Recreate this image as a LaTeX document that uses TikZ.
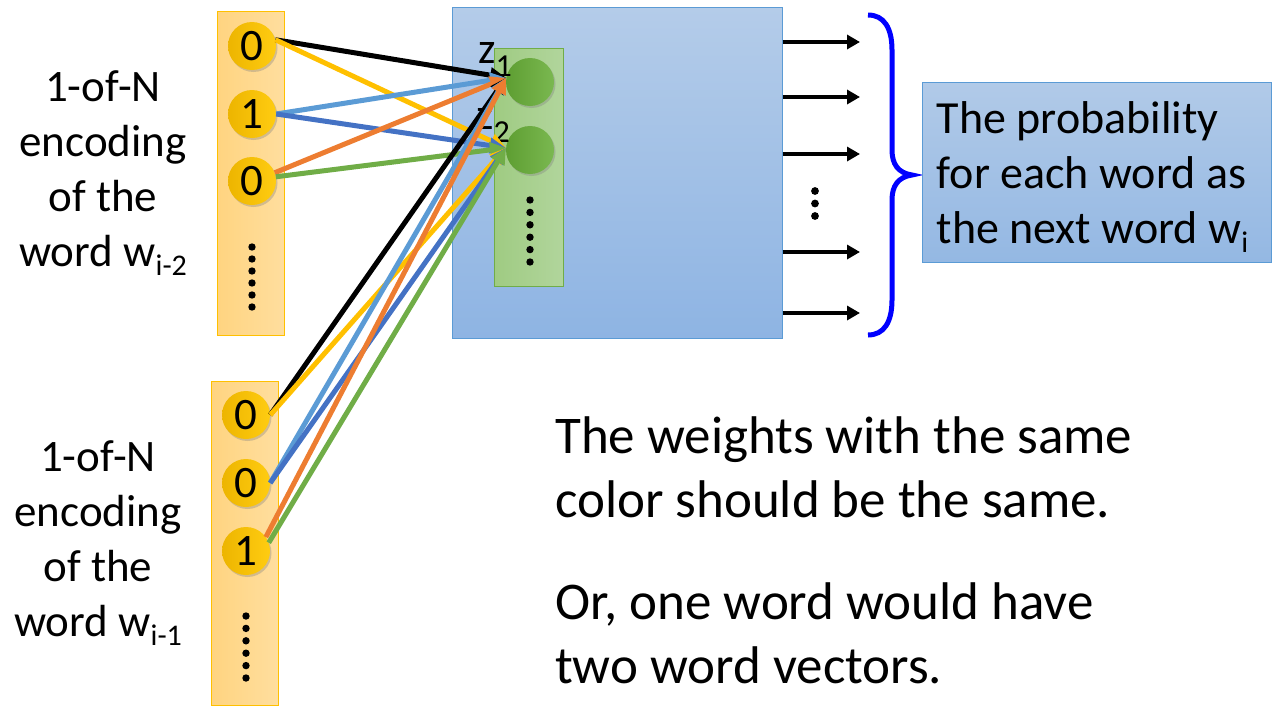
\documentclass[tikz,border=0pt]{standalone}
\usepackage{fontspec}
\setmainfont{Carlito}
\usetikzlibrary{arrows.meta,shadows}

\definecolor{wyellow}{HTML}{FFC000}
\definecolor{wlblue}{HTML}{5B9BD5}
\definecolor{wdblue}{HTML}{4472C4}
\definecolor{worange}{HTML}{ED7D31}
\definecolor{wgreen}{HTML}{70AD47}
\definecolor{boxl}{HTML}{FFD480}
\definecolor{boxr}{HTML}{FFDE9E}
\definecolor{bitl}{HTML}{EDB500}
\definecolor{bitr}{HTML}{FFCC11}
\definecolor{hidtop}{HTML}{B4CCE9}
\definecolor{hidbot}{HTML}{8EB4E3}
\definecolor{grnl}{HTML}{9FCB82}
\definecolor{grnr}{HTML}{B1D59C}
\definecolor{unitl}{HTML}{5E9E32}
\definecolor{unitr}{HTML}{7AB850}
\definecolor{probtop}{HTML}{B1CAE8}
\definecolor{probbot}{HTML}{94B8E3}
\definecolor{brcblue}{HTML}{0000FF}

\begin{document}
\begin{tikzpicture}[x=1pt, y=-1pt,
    onehot/.style={draw=wyellow, line width=1pt, left color=boxl, right color=boxr,
      minimum width=67pt, minimum height=324pt, inner sep=0pt},
    bit/.style={circle, minimum size=48pt, inner sep=0pt, left color=bitl, right color=bitr,
      font=\fontsize{45}{45}\selectfont,
      drop shadow={shadow xshift=1.5pt, shadow yshift=-2pt, opacity=.35}},
    hidbox/.style={draw=wlblue, line width=1pt, top color=hidtop, bottom color=hidbot,
      minimum width=330pt, minimum height=331pt, inner sep=0pt},
    grnbox/.style={draw=wgreen, line width=1pt, left color=grnl, right color=grnr,
      minimum width=69pt, minimum height=238pt, inner sep=0pt},
    unit/.style={circle, minimum size=48pt, inner sep=0pt, left color=unitl, right color=unitr,
      drop shadow={shadow xshift=1.5pt, shadow yshift=-2pt, opacity=.35}},
    zlab/.style={anchor=base west, inner sep=0pt, font=\fontsize{44}{44}\selectfont},
    probbox/.style={draw=wlblue, line width=1pt, top color=probtop, bottom color=probbot,
      minimum width=349pt, minimum height=180pt, inner sep=0pt},
    probtext/.style={anchor=west, align=left, inner sep=0pt, font=\fontsize{46}{55}\selectfont},
    sidetext/.style={align=center, inner sep=0pt, font=\fontsize{45}{55}\selectfont},
    note/.style={anchor=west, align=left, inner sep=0pt, font=\fontsize{53}{64}\selectfont},
    wt/.style={line width=5pt, -{Triangle[length=16pt,width=15pt]}},
    outarr/.style={line width=4pt, -{Triangle[length=13pt,width=14pt]}},
    brc/.style={draw=brcblue, line width=5pt}]

    \useasboundingbox (0,0) rectangle (1287,720);

    % input columns
    \node[onehot] (boxa) at (250.5,173) {};
    \node[onehot] (boxb) at (244.5,543.5) {};
    \node[bit] (a1) at (252,46) {0};
    \node[bit] (a2) at (252,114) {1};
    \node[bit] (a3) at (252,181) {0};
    \node[bit] (b1) at (246,415) {0};
    \node[bit] (b2) at (246,483) {0};
    \node[bit] (b3) at (246,551) {1};
    \foreach \k in {0,...,5} {
      \fill (252,247+12*\k) circle (3.7pt);
      \fill (246,616+12.4*\k) circle (3.7pt);
    }

    % hidden layer
    \node[hidbox] (hid) at (617,172.5) {};
    \node[grnbox] (grn) at (528.5,167) {};
    \node[unit] (h1) at (530,82) {};
    \node[unit] (h2) at (530,150) {};
    \foreach \k in {0,...,5}
      \fill (530,200+12.4*\k) circle (3.7pt);

    \node[zlab] (z1) at (478,63) {z\raisebox{-.3em}{\fontsize{32}{32}\selectfont 1}};
    \node[zlab] (z2) at (476,129) {z\raisebox{-.3em}{\fontsize{32}{32}\selectfont 2}};

    % weights from w_{i-2}
    \draw[wt, black] (a1.15) -- (h1.170);
    \draw[wt, wyellow] (a1.15) -- (h2.175);
    \draw[wt, wlblue] (a2.east) -- (h1.170);
    \draw[wt, wdblue] (a2.east) -- (h2.175);
    \draw[wt, worange] (a3.20) -- (h1.170);
    \draw[wt, wgreen] (a3.10) -- (h2.175);

    % weights from w_{i-1}
    \draw[wt, black] (b1.east) -- (h1.170);
    \draw[wt, wyellow] (b1.east) -- (h2.175);
    \draw[wt, wlblue] (b2.east) -- (h1.170);
    \draw[wt, wdblue] (b2.east) -- (h2.175);
    \draw[wt, worange] (b3.35) -- (h1.170);
    \draw[wt, wgreen] (b3.20) -- (h2.175);

    % outputs
    \coordinate (o1) at (860,42);
    \coordinate (o2) at (860,97);
    \coordinate (o3) at (860,154);
    \coordinate (o4) at (860,252);
    \coordinate (o5) at (860,313);
    \draw[outarr] (hid.east |- o1) -- (o1);
    \draw[outarr] (hid.east |- o2) -- (o2);
    \draw[outarr] (hid.east |- o3) -- (o3);
    \draw[outarr] (hid.east |- o4) -- (o4);
    \draw[outarr] (hid.east |- o5) -- (o5);
    \foreach \k in {0,...,2}
      \fill (815,191+12.5*\k) circle (3.9pt);

    \draw[brc] (868,15) .. controls (884,15) and (892,28) .. (892,50) -- (892,150)
      .. controls (892,164) and (898,173) .. (912,175)
      .. controls (898,177) and (892,186) .. (892,200) -- (892,300)
      .. controls (892,322) and (884,335) .. (868,335);

    \node[probbox] (prob) at (1096.5,172) {};
    \node[probtext] (probtxt) at ([xshift=15pt,yshift=-5pt]prob.west) {The probability\\for each word as\\the next word w\raisebox{-.2em}{\fontsize{30}{30}\selectfont i}};

    % text
    \node[sidetext] (enca) at (103,173) {1-of-N\\encoding\\of the\\word w\raisebox{-.2em}{\fontsize{30}{30}\selectfont i-2}};
    \node[sidetext] (encb) at (98,543) {1-of-N\\encoding\\of the\\word w\raisebox{-.2em}{\fontsize{30}{30}\selectfont i-1}};

    \node[note] (same) at (555,467) {The weights with the same\\color should be the same.};
    \node[note] (twovec) at (555,633) {Or, one word would have\\two word vectors.};
  \end{tikzpicture}
\end{document}
